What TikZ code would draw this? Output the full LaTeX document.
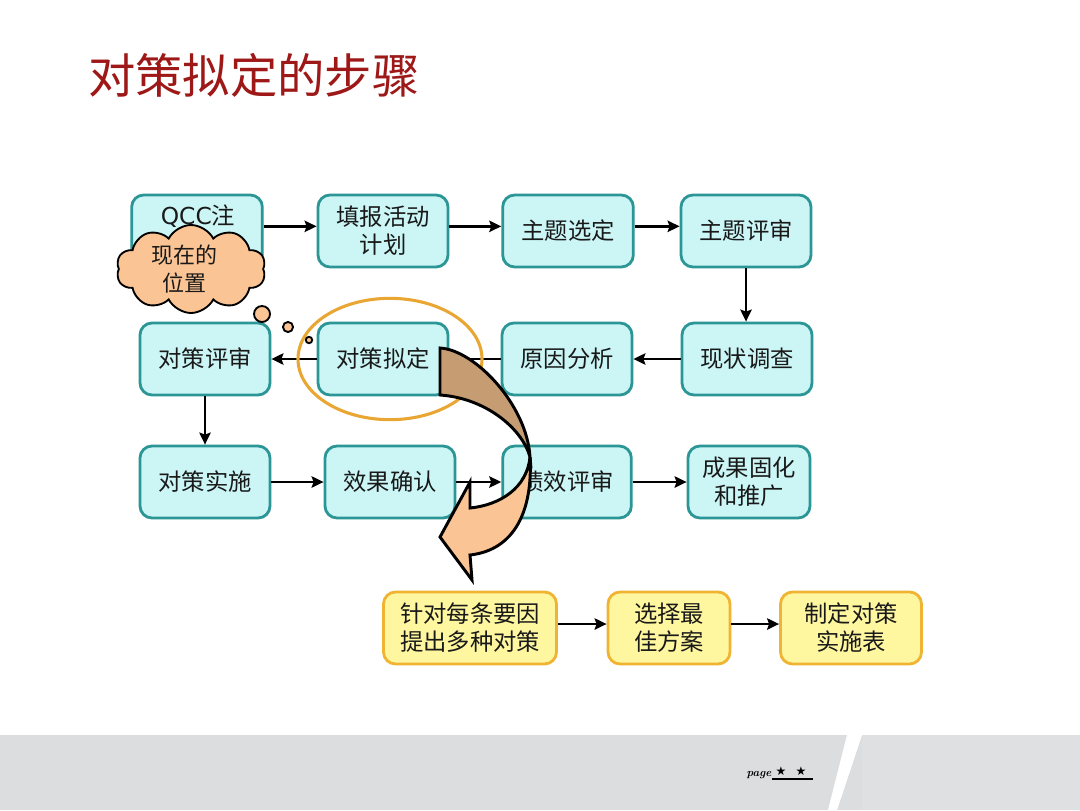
\documentclass[tikz,border=0pt]{standalone}
\usepackage{fontspec}
\usetikzlibrary{arrows.meta,shapes.symbols}
\newfontfamily\cjk{Noto Sans CJK SC}
\newfontfamily\dejavu{DejaVu Sans}
\definecolor{boxfill}{RGB}{204,246,246}
\definecolor{boxborder}{RGB}{44,150,150}
\definecolor{yfill}{RGB}{255,247,160}
\definecolor{ybord}{RGB}{240,180,50}
\definecolor{titlered}{RGB}{158,24,24}
\definecolor{peach}{RGB}{251,196,148}
\definecolor{brownc}{RGB}{198,156,114}
\definecolor{ellcol}{RGB}{233,166,50}
\definecolor{footgray}{RGB}{220,221,223}
\definecolor{footgray2}{RGB}{223,224,226}
\tikzset{
  bluebox/.style={draw=boxborder, fill=boxfill, line width=2.1pt, rounded corners=9pt,
    minimum width=97.5pt, minimum height=54pt, inner sep=0pt, align=center,
    font=\cjk\fontsize{17.5}{21}\selectfont, text=black!90},
  yellowbox/.style={bluebox, draw=ybord, fill=yfill},
  flow/.style={line width=1.8pt, -{Stealth[length=9pt,width=8.5pt,inset=1.5pt]}},
  bubble/.style={fill=peach, draw=black, line width=1.4pt},
}
\begin{document}
\begin{tikzpicture}[x=0.75pt,y=-0.75pt]
\useasboundingbox (0,0) rectangle (1080,810);
\fill[white] (0,0) rectangle (1080,810);
% footer
\fill[footgray] (0,735) rectangle (1080,810);
\fill[footgray2] (862,735) rectangle (1080,810);
\fill[white] (847,735) -- (862,735) -- (837,810) -- (828,810) -- cycle;
\node[font=\itshape\bfseries\fontsize{8.5}{8.5}\selectfont, inner sep=0pt] (pg) at (759,775) {page};
\node[font=\dejavu\fontsize{9}{9}\selectfont, inner sep=0pt] (st1) at (781,771) {★};
\node[font=\dejavu\fontsize{9}{9}\selectfont, inner sep=0pt] (st2) at (801,771) {★};
\draw[line width=1pt] (772,779) -- (813,779);
% title
\node[font=\cjk\fontsize{35.5}{40}\selectfont, text=titlered, anchor=west, inner sep=0pt] (title) at (88,75) {对策拟定的步骤};
% row 1
\node[bluebox, minimum width=98pt] (qcc) at (197,231) {};
\node[inner sep=0pt, font=\fontsize{17.5}{21}\selectfont, text=black!90] (qcct) at (198,216) {{\dejavu QCC}{\cjk 注}};
\node[bluebox] (tb) at (383,231) {填报活动\\计划};
\node[bluebox, minimum width=98pt] (ztxd) at (568,231) {主题选定};
\node[bluebox] (ztps) at (746,231) {主题评审};
% row 2
\node[bluebox] (dcps) at (205,359) {对策评审};
\node[bluebox] (dcnd) at (383,359) {对策拟定};
\node[bluebox] (yyfx) at (567,359) {原因分析};
\node[bluebox] (xzdc) at (747,359) {现状调查};
% row 3
\node[bluebox] (dcss) at (205,482) {对策实施};
\node[bluebox] (xgqr) at (390,482) {效果确认};
\node[bluebox, minimum width=96.5pt] (jxps) at (567,482) {绩效评审};
\node[bluebox, minimum width=91.5pt] (cggh) at (749,482) {成果固化\\和推广};
% arrows
\draw[flow] ([yshift=3.5pt]qcc.east) -- ([yshift=3.5pt]tb.west);
\draw[flow] ([yshift=3.5pt]tb.east) -- ([yshift=3.5pt]ztxd.west);
\draw[flow] ([yshift=3.5pt]ztxd.east) -- ([yshift=3.5pt]ztps.west);
\draw[flow] (ztps.south) -- (ztps.south |- xzdc.north);
\draw[flow] (xzdc.west) -- (yyfx.east);
\draw[flow] (yyfx.west) -- (dcnd.east);
\draw[flow] (dcnd.west) -- (dcps.east);
\draw[flow] (dcps.south) -- (dcss.north);
\draw[flow] (dcss.east) -- (xgqr.west);
\draw[flow] (xgqr.east) -- (jxps.west);
\draw[flow] (jxps.east) -- (cggh.west);
% ellipse
\draw[ellcol, line width=2.3pt] (390,359) ellipse [x radius=69pt, y radius=45.5pt];
% cloud and bubbles
\node[cloud, cloud puffs=10, cloud puff arc=125, cloud ignores aspect, minimum width=112pt, minimum height=66pt,
  fill=peach, draw=black, line width=1.4pt, inner sep=0pt] (cloud) at (191,269) {};
\node[inner sep=0pt, align=center, font=\cjk\fontsize{16.5}{21}\selectfont, text=black!90] (cloudt) at (184,269) {现在的\\位置};
\draw[bubble] (262,314) circle (6pt);
\draw[bubble] (288,327) circle (3.8pt);
\draw[bubble] (309,340) circle (2.4pt);
% big curved arrow
\draw[fill=peach, line width=2.2pt, line join=miter] (530,457) .. controls (533,510) and (515,550) .. (470,555)
  -- (472,580) -- (440,537) -- (470,482) -- (470,508)
  .. controls (500,505) and (527,488) .. (530,457) -- cycle;
\draw[fill=brownc, line width=2.2pt, line join=miter] (440,348) .. controls (475,350) and (527,405) .. (530,457)
  .. controls (522,428) and (485,398) .. (440,395) -- cycle;
% yellow row
\node[yellowbox, minimum width=129.75pt] (y1) at (470,628) {针对每条要因\\提出多种对策};
\node[yellowbox, minimum width=91.5pt] (y2) at (669,628) {选择最\\佳方案};
\node[yellowbox, minimum width=105.75pt] (y3) at (851,628) {制定对策\\实施表};
\draw[flow] ([yshift=3pt]y1.east) -- ([yshift=3pt]y2.west);
\draw[flow] ([yshift=3pt]y2.east) -- ([yshift=3pt]y3.west);
\end{tikzpicture}
\end{document}
